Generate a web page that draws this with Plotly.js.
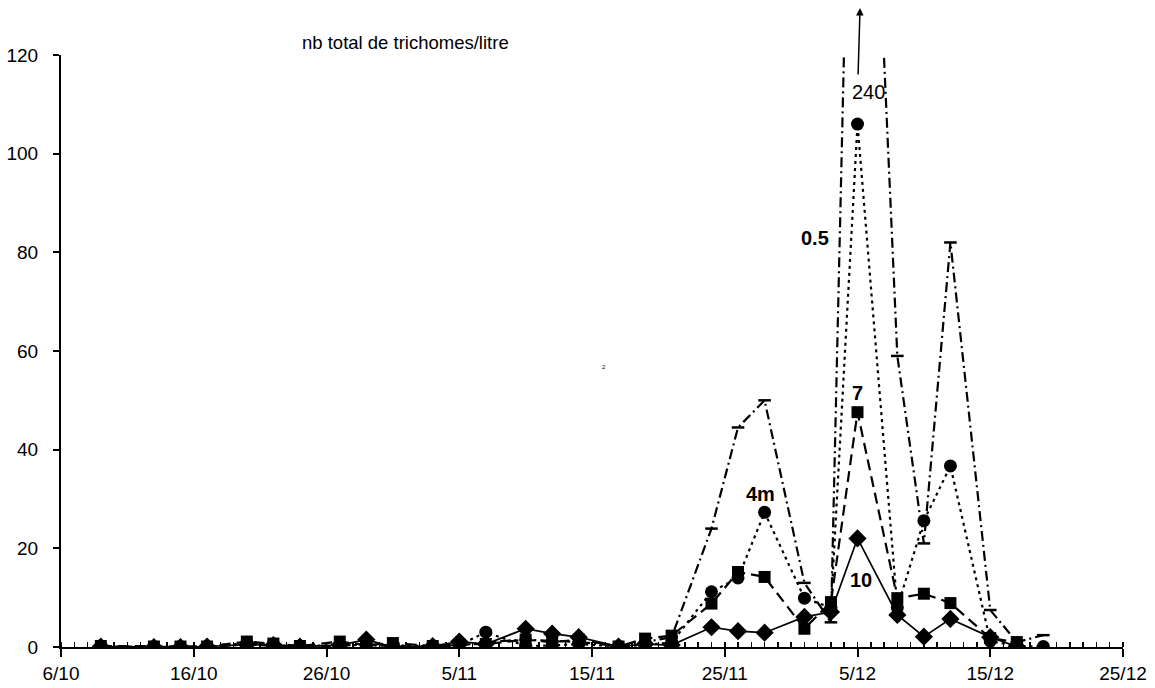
<!DOCTYPE html>
<html>
<head>
<meta charset="utf-8">
<script src="https://cdn.plot.ly/plotly-3.0.1.min.js"></script>
<style>html,body{margin:0;padding:0;background:#fff;}#chart{width:1155px;height:688px;}</style>
</head>
<body>
<div id="chart"></div>
<script>
const dates = ['2003-10-09','2003-10-13','2003-10-15','2003-10-17','2003-10-20','2003-10-22','2003-10-24','2003-10-27','2003-10-29','2003-10-31','2003-11-03','2003-11-05','2003-11-07','2003-11-10','2003-11-12','2003-11-14','2003-11-17','2003-11-19','2003-11-21','2003-11-24','2003-11-26','2003-11-28','2003-12-01','2003-12-03','2003-12-05','2003-12-08','2003-12-10','2003-12-12','2003-12-15','2003-12-17','2003-12-19'];
const depth05 = [0,0,0,0,0.5,0.3,0,0.3,0.5,0.2,0.1,0.3,1.0,1.5,1.2,1.0,0.2,1.0,2.0,24,44.5,50,13,5,240,59,21,82,7.5,1.0,2.4];
const depth4 = [0.1,0,0,0,0.8,0.5,0.1,0.5,0.3,0.3,0.2,0.4,3.0,0.2,0.3,0.6,0.1,0.4,0.9,11.2,14.0,27.3,9.9,8,106,8,25.6,36.7,1.2,0.2,0.1];
const depth7 = [0.2,0.1,0.1,0.1,1.1,0.7,0.2,1.1,0.4,0.8,0.2,0.5,0.6,1.5,1.0,1.5,0.1,1.7,2.3,8.8,15.2,14.2,3.7,9.1,47.6,9.9,10.8,8.9,1.8,1.0,null];
const depth10 = [0.1,0,0,0.1,0.5,0.4,0.1,0.4,1.5,0,0.2,1.1,0.6,3.7,2.7,2.0,0.1,0.6,0.4,4.0,3.2,2.9,6.1,7.1,22,6.5,2.1,5.7,2.0,0.1,null];
const tickDates = ['2003-10-06','2003-10-16','2003-10-26','2003-11-05','2003-11-15','2003-11-25','2003-12-05','2003-12-15','2003-12-25'];
const tickLabels = ['6/10','16/10','26/10','5/11','15/11','25/11','5/12','15/12','25/12'];
const yTicks = [0,20,40,60,80,100,120];

const FONT = 'Arial, "Liberation Sans", sans-serif';

const traces = [
  {x: dates, y: depth05, name: '0.5', mode: 'lines+markers',
   line: {color: '#000', width: 2.2, dash: '10px,4px,2px,4px'},
   marker: {symbol: 'line-ew', size: 9, color: '#000', line: {color: '#000', width: 2.5}}},
  {x: dates, y: depth4, name: '4m', mode: 'lines+markers',
   line: {color: '#000', width: 2.2, dash: '3px,4px'},
   marker: {symbol: 'circle', size: 13, color: '#000'}},
  {x: dates, y: depth7, name: '7', mode: 'lines+markers',
   line: {color: '#000', width: 2.2, dash: '11px,6px'},
   marker: {symbol: 'square', size: 12, color: '#000'}},
  {x: dates, y: depth10, name: '10', mode: 'lines+markers',
   line: {color: '#000', width: 1.7},
   marker: {symbol: 'diamond', size: 14, color: '#000'}}
];

const annFont = {family: FONT, size: 20, color: '#000'};
const layout = {
  width: 1155, height: 688,
  margin: {l: 61, r: 32, t: 55, b: 41},
  paper_bgcolor: '#fff', plot_bgcolor: '#fff',
  showlegend: false,
  font: {family: FONT, size: 19, color: '#000'},
  xaxis: {
    type: 'date', range: ['2003-10-06','2003-12-25'],
    tickvals: tickDates, ticktext: tickLabels,
    showgrid: false, zeroline: false,
    showline: true, linecolor: '#000', linewidth: 2,
    ticks: 'outside', ticklen: 8, tickwidth: 2, tickcolor: '#000',
    minor: {dtick: 86400000, tick0: '2003-10-06', ticks: 'inside', ticklen: 5, tickwidth: 1.5, tickcolor: '#000', showgrid: false},
    tickfont: {family: FONT, size: 19, color: '#000'}
  },
  yaxis: {
    range: [0, 120], tickvals: yTicks,
    showgrid: false, zeroline: false,
    showline: true, linecolor: '#000', linewidth: 2,
    ticks: 'outside', ticklen: 6, tickwidth: 2, tickcolor: '#000',
    ticklabelstandoff: 11,
    tickfont: {family: FONT, size: 19, color: '#000'}
  },
  annotations: [
    {xref: 'paper', yref: 'paper', x: 0.324, y: 1.0203, xanchor: 'center', yanchor: 'middle',
     text: 'nb total de trichomes/litre', showarrow: false,
     font: {family: FONT, size: 18.5, color: '#000'}},
    {xref: 'x', yref: 'y', x: '2003-12-05 19:00', y: 112.5, xanchor: 'center', text: '240', showarrow: false,
     font: {family: FONT, size: 20, color: '#000'}},
    {xref: 'paper', yref: 'paper', x: 0.7524, y: 1.0794, text: '', showarrow: true,
     ax: -2, ay: 68, arrowhead: 2, arrowsize: 1, arrowwidth: 1.5, arrowcolor: '#000'},
    {xref: 'x', yref: 'y', x: '2003-12-01 20:00', y: 83, xanchor: 'center', text: '<b>0.5</b>', showarrow: false, font: annFont},
    {xref: 'x', yref: 'y', x: '2003-12-05', y: 51.5, xanchor: 'center', text: '<b>7</b>', showarrow: false, font: annFont},
    {xref: 'x', yref: 'y', x: '2003-11-27 17:00', y: 31, xanchor: 'center', text: '<b>4m</b>', showarrow: false, font: annFont},
    {xref: 'x', yref: 'y', x: '2003-12-05 07:00', y: 13.6, xanchor: 'center', text: '<b>10</b>', showarrow: false, font: annFont},
    {xref: 'x', yref: 'y', x: '2003-11-15 22:00', y: 56.8, xanchor: 'center', text: '2', showarrow: false,
     font: {family: FONT, size: 6, color: '#000'}}
  ]
};

Plotly.newPlot('chart', traces, layout, {staticPlot: true, displayModeBar: false});
</script>
</body>
</html>
